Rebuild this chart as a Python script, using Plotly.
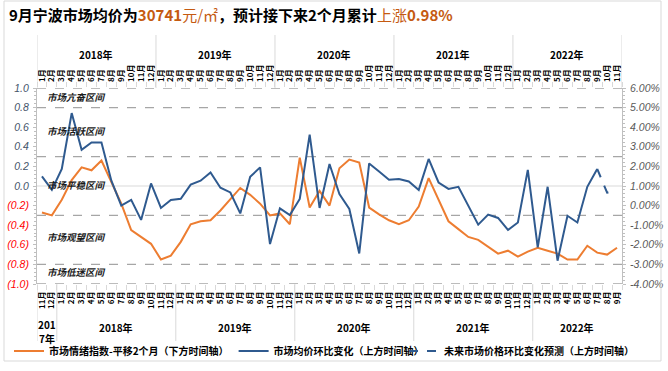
import plotly.graph_objects as go

# ---------------- data ----------------
top_years = ["2018年", "2019年", "2020年", "2021年", "2022年"]
top_year_months = [12, 12, 12, 12, 11]
bottom_years = ["201<br>7年", "2018年", "2019年", "2020年", "2021年", "2022年"]
bottom_year_start = [11, 1, 1, 1, 1, 1]
bottom_year_months = [2, 12, 12, 12, 12, 9]

top_months = [f"{m}月" for n in top_year_months for m in range(1, n + 1)]
bottom_months = [f"{s + k}月" for s, n in zip(bottom_year_start, bottom_year_months) for k in range(n)]

# 市场情绪指数（平移2个月，下方时间轴 2017-11 ~ 2022-09）
sentiment = [-0.27, -0.30, -0.14, 0.06, 0.19, 0.16, 0.26, 0.04, -0.18, -0.45,
             -0.52, -0.59, -0.75, -0.71, -0.57, -0.39, -0.36, -0.35, -0.25, -0.13,
             -0.02, -0.09, -0.18, -0.30, -0.28, -0.39, 0.29, -0.22, -0.05, -0.20,
             0.18, 0.27, 0.24, -0.22, -0.29, -0.35, -0.39, -0.35, -0.21, 0.08,
             -0.14, -0.36, -0.44, -0.52, -0.55, -0.62, -0.69, -0.66, -0.72, -0.67,
             -0.63, -0.66, -0.69, -0.75, -0.75, -0.61, -0.68, -0.70, -0.63]

# 市场均价环比变化 %（上方时间轴 2018-01 ~ 2022-09）
price_change = [1.49, 0.80, 1.87, 4.72, 2.85, 3.22, 3.22, 1.27, 0.00, 0.29,
                -0.73, 1.13, -0.12, 0.29, 0.35, 1.07, 1.27, 1.69, 0.91, 0.67,
                -0.40, 1.47, 1.95, -1.96, -0.14, -0.48, 0.34, 3.62, -0.12, 2.12,
                0.59, -0.17, -2.44, 2.15, 1.74, 1.32, 1.36, 1.23, 0.80, 2.38,
                1.18, 0.85, 0.96, 0.00, -0.97, -0.46, -0.63, -1.24, -0.86, 1.82,
                -2.13, 0.96, -2.81, -0.52, -0.86, 0.96, 1.87]

# 未来市场价格环比变化预测 %（2022-09 ~ 2022-11）
forecast_months = ["9月", "10月", "11月"]
forecast = [1.87, 0.66, 0.73]

left_ticks = [1.0, 0.8, 0.6, 0.4, 0.2, 0.0, -0.2, -0.4, -0.6, -0.8, -1.0]
right_ticks = [6, 5, 4, 3, 2, 1, 0, -1, -2, -3, -4]
zone_bounds = [1.0, 0.8, 0.3, -0.3, -0.8, -1.0]
zone_names = ["市场亢奋区间", "市场活跃区间", "市场平稳区间", "市场观望区间", "市场低迷区间"]
zone_label_y = [0.91, 0.565, 0.015, -0.525, -0.88]

# ---------------- layout helpers ----------------
W, H = 668, 371
L, R, T, B = 37, 46, 88, 87
PW, PH = W - L - R, H - T - B
FONT = "Noto Sans CJK SC"
ORANGE = "#ED7D31"
BLUE = "#2F5A8F"


def px_x(px):
    return (px - L) / PW


def px_y(py):
    return (H - B - py) / PH


def fmt_left(v):
    if v < 0:
        return f"<span style='color:#FF0000'><i>({abs(v):.1f})</i></span>"
    return f"<i>{v:.1f}</i>"


n_bottom = len(bottom_months)
n_top = len(top_months)
x_bottom = list(range(n_bottom))
x_top = list(range(n_top))
fc_start = top_months.index("9月", n_top - 12)
x_fc = [fc_start + k for k in range(len(forecast))]

fig = go.Figure()
fig.add_trace(go.Scatter(
    x=x_bottom, y=sentiment, xaxis="x", yaxis="y", mode="lines",
    line=dict(color=ORANGE, width=2), legend="legend",
    name="市场情绪指数-平移2个月（下方时间轴）"))
fig.add_trace(go.Scatter(
    x=x_top[:len(price_change)], y=price_change, xaxis="x2", yaxis="y2", mode="lines",
    line=dict(color=BLUE, width=2), legend="legend",
    name="市场均价环比变化（上方时间轴）"))
fig.add_trace(go.Scatter(
    x=x_fc, y=forecast, xaxis="x2", yaxis="y2", mode="lines",
    line=dict(color=BLUE, width=2, dash="dash"), legend="legend2",
    name="未来市场价格环比变化预测（上方时间轴）"))

shapes = []
for b in zone_bounds:
    shapes.append(dict(type="line", xref="paper", yref="y", x0=0, x1=1, y0=b, y1=b,
                       line=dict(color="#A6A6A6", width=1.3, dash="dash"), layer="below"))
shapes.append(dict(type="line", xref="paper", yref="y", x0=0, x1=1, y0=0, y1=0,
                   line=dict(color="#D9D9D9", width=1.2), layer="below"))
pos = -0.5
bounds_top = [pos]
for n in top_year_months:
    pos += n
    bounds_top.append(pos)
for b in bounds_top:
    shapes.append(dict(type="line", xref="x2", yref="paper", x0=b, x1=b, y0=1, y1=px_y(35),
                       line=dict(color="#D9D9D9", width=1)))
pos = -0.5
bounds_bot = [pos]
for n in bottom_year_months[:-1]:
    pos += n
    bounds_bot.append(pos)
for b in bounds_bot:
    shapes.append(dict(type="line", xref="x", yref="paper", x0=b, x1=b, y0=0, y1=px_y(341),
                       line=dict(color="#D9D9D9", width=1)))
shapes.append(dict(type="rect", xref="paper", yref="paper",
                   x0=px_x(4), x1=px_x(661), y0=px_y(361), y1=px_y(1),
                   line=dict(color="#D9D9D9", width=1)))

annotations = []
start = 0
for name, n in zip(top_years, top_year_months):
    annotations.append(dict(x=start + (n - 1) / 2, y=px_y(45), xref="x2", yref="paper",
                            text=f"<b>{name}</b>", showarrow=False,
                            font=dict(family=FONT, size=10, color="#000000")))
    start += n
start = 0
for name, n in zip(bottom_years, bottom_year_months):
    parts = name.split("<br>")
    if len(parts) == 1:
        ys = [327]
    else:
        ys = [324, 338]
    for part, yy in zip(parts, ys):
        annotations.append(dict(x=start + (n - 1) / 2, y=px_y(yy), xref="x", yref="paper",
                                yanchor="middle", text=f"<b>{part}</b>", showarrow=False,
                                borderpad=0,
                                font=dict(family=FONT, size=10, color="#000000")))
    start += n
for name, yv in zip(zone_names, zone_label_y):
    annotations.append(dict(x=px_x(45), y=yv, xref="paper", yref="y", xanchor="left",
                            text=f"<b><i>{name}</i></b>", showarrow=False,
                            font=dict(family=FONT, size=9.5, color="#1a1a1a")))

title_text = ("<b>9月宁波市场均价为<span style='color:#C55A11'>30741</span></b>"
              "<span style='color:#C55A11'>元/㎡</span>"
              "<b>，预计接下来2个月累计</b>"
              "<span style='color:#C55A11'>上涨</span>"
              "<b><span style='color:#C55A11'>0.98%</span></b>")

month_font = dict(family=FONT, size=8, color="#000000", weight="bold")
axis_common = dict(range=[-0.5, n_bottom - 0.5], tickangle=-90, ticks="",
                   showgrid=False, zeroline=False, showline=False,
                   tickfont=month_font, ticklabelstandoff=5,
                   minor=dict(tick0=-0.5, dtick=1, ticks="outside", ticklen=5,
                              tickcolor="#D9D9D9", showgrid=False))

legend_common = dict(orientation="h", xanchor="left", yanchor="middle",
                     font=dict(family=FONT, size=10, color="#000000", weight="bold"),
                     itemwidth=30, bgcolor="rgba(0,0,0,0)", tracegroupgap=0)

fig.update_layout(
    width=W, height=H,
    margin=dict(l=L, r=R, t=T, b=B, autoexpand=False),
    paper_bgcolor="white", plot_bgcolor="white",
    font=dict(family=FONT),
    title=dict(text=title_text, x=9 / W, xref="container", xanchor="left",
               y=1 - 16 / H, yref="container", yanchor="middle",
               font=dict(family=FONT, size=15, color="#000000")),
    xaxis=dict(tickvals=x_bottom, ticktext=bottom_months, anchor="y", side="bottom",
               **axis_common),
    xaxis2=dict(tickvals=x_top, ticktext=top_months, anchor="y", side="top",
                overlaying="x", **axis_common),
    yaxis=dict(range=[-1, 1], tickvals=left_ticks, ticktext=[fmt_left(v) for v in left_ticks],
               tickfont=dict(family="Liberation Sans", size=10.5, color="#44546A"),
               showgrid=False, zeroline=False, showline=True, linecolor="#BFBFBF",
               ticks="outside", ticklen=3, tickcolor="#BFBFBF", ticklabelstandoff=2,
               minor=dict(dtick=0.04, ticks="outside", ticklen=2, tickcolor="#BFBFBF", showgrid=False)),
    yaxis2=dict(range=[-4, 6], tickvals=right_ticks,
                ticktext=[f"<i>{v:.2f}%</i>" for v in right_ticks],
                tickfont=dict(family="Liberation Sans", size=10.5, color="#595959"),
                overlaying="y", side="right", anchor="x",
                showgrid=False, zeroline=False, showline=True, linecolor="#BFBFBF",
                ticks="outside", ticklen=3, tickcolor="#BFBFBF", ticklabelstandoff=2,
                minor=dict(dtick=0.2, ticks="outside", ticklen=2, tickcolor="#BFBFBF", showgrid=False)),
    legend=dict(x=px_x(9), y=px_y(351), **legend_common),
    legend2=dict(x=px_x(404), y=px_y(351), **legend_common),
    shapes=shapes,
    annotations=annotations,
)

fig.write_html("out.html", config={"displayModeBar": False},
               post_script="document.body.style.margin='0';document.body.style.overflow='hidden';")
